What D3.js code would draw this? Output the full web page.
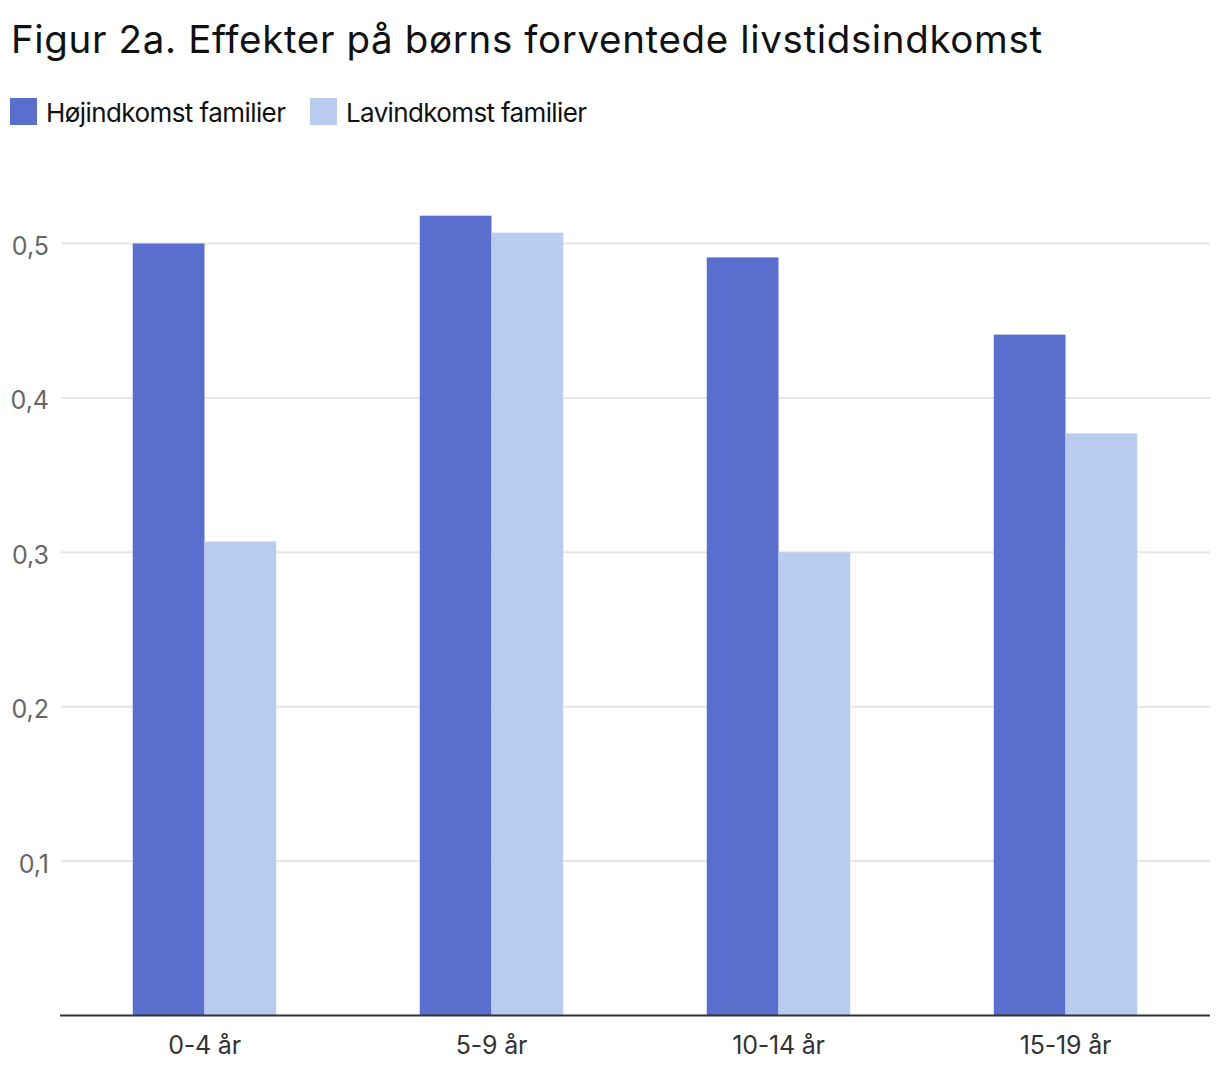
<!DOCTYPE html>
<html>
<head>
<meta charset="utf-8">
<script src="https://cdn.jsdelivr.net/npm/d3@7"></script>
<style>
  html, body { margin: 0; padding: 0; background: #fff; }
  svg text { font-family: Inter, "Noto Sans", sans-serif; }
</style>
</head>
<body>
<svg id="chart" width="1220" height="1078"></svg>
<script>
const title = "Figur 2a. Effekter på børns forventede livstidsindkomst";
const categories = ["0-4 år", "5-9 år", "10-14 år", "15-19 år"];
const seriesNames = ["Højindkomst familier", "Lavindkomst familier"];
const hojindkomst = [0.500, 0.518, 0.491, 0.441];
const lavindkomst = [0.307, 0.507, 0.300, 0.377];
const yTicks = [0.1, 0.2, 0.3, 0.4, 0.5];
const yTickLabels = ["0,1", "0,2", "0,3", "0,4", "0,5"];
const colors = ["#5a6fcd", "#b9cbee"];

const series = [hojindkomst, lavindkomst];
const svg = d3.select("#chart");

const x = d3.scaleBand().domain(categories).range([61, 1209]).paddingInner(0.5).paddingOuter(0.25);
const xSub = d3.scaleBand().domain(seriesNames).range([0, x.bandwidth()]);
const y = d3.scaleLinear().domain([0, 0.5]).range([1015.5, 243.5]);

// title
svg.append("text").attr("x", 11).attr("y", 53)
  .attr("font-size", 38.5).attr("fill", "#111")
  .attr("textLength", 1031).attr("lengthAdjust", "spacing")
  .text(title);

// legend
const legendX = [10, 310];
const legendW = [240, 241];
seriesNames.forEach((name, i) => {
  const lx = legendX[i];
  svg.append("rect").attr("x", lx).attr("y", 98).attr("width", 27).attr("height", 27).attr("fill", colors[i]);
  svg.append("text").attr("x", lx + 36).attr("y", 121.5)
    .attr("font-size", 26).attr("fill", "#111")
    .attr("textLength", legendW[i]).attr("lengthAdjust", "spacing").text(name);
});

// gridlines
svg.append("g").selectAll("line").data(yTicks).join("line")
  .attr("x1", 61).attr("x2", 1210)
  .attr("y1", d => y(d)).attr("y2", d => y(d))
  .attr("stroke", "#e6e6e6").attr("stroke-width", 2);

// y axis labels
const yAxis = d3.axisLeft(y).tickValues(yTicks).tickFormat((d, i) => yTickLabels[i]).tickSize(0).tickPadding(0);
const gy = svg.append("g").attr("transform", "translate(49,3)").call(yAxis);
gy.select(".domain").remove();
gy.selectAll("text").attr("font-size", 25).attr("fill", "#666").attr("font-family", "Inter, 'Noto Sans', sans-serif");

// bars
const groups = svg.append("g").selectAll("g").data(categories).join("g")
  .attr("transform", d => `translate(${x(d)},0)`);
groups.selectAll("rect").data((d, ci) => seriesNames.map((s, si) => ({ s, v: series[si][ci], si })))
  .join("rect")
  .attr("x", d => xSub(d.s))
  .attr("width", xSub.bandwidth())
  .attr("y", d => y(d.v))
  .attr("height", d => y(0) - y(d.v))
  .attr("fill", d => colors[d.si]);

// x axis
const xAxis = d3.axisBottom(x).tickSize(0).tickPadding(0);
const gx = svg.append("g").attr("transform", `translate(0,${y(0)})`).call(xAxis);
gx.select(".domain").remove();
svg.append("line").attr("x1", 60).attr("x2", 1210).attr("y1", y(0)).attr("y2", y(0))
  .attr("stroke", "#333").attr("stroke-width", 2);
gx.selectAll("text").attr("font-size", 25).attr("fill", "#333").attr("dy", 0).attr("y", 38)
  .attr("font-family", "Inter, 'Noto Sans', sans-serif").attr("letter-spacing", -0.2);
</script>
</body>
</html>
